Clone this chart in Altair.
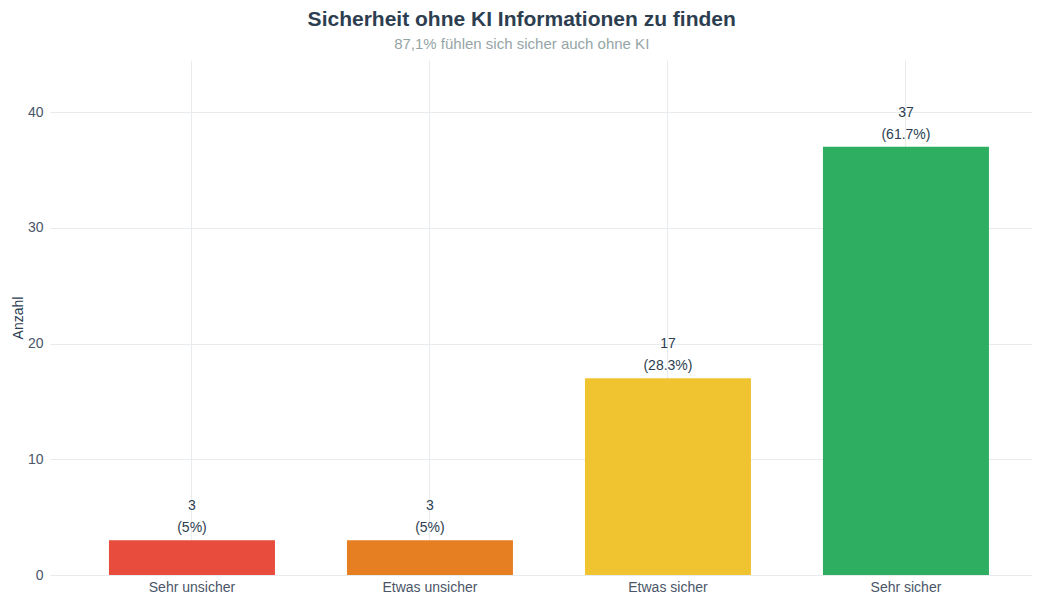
import altair as alt
import pandas as pd

categories = ["Sehr unsicher", "Etwas unsicher", "Etwas sicher", "Sehr sicher"]
counts = [3, 3, 17, 37]
percents = ["5%", "5%", "28.3%", "61.7%"]
colors = ["#e74c3c", "#e67e22", "#f0c330", "#2eae61"]

df = pd.DataFrame({
    "Kategorie": categories,
    "Anzahl": counts,
    "label": [f"{c}\n({p})" for c, p in zip(counts, percents)],
})

x = alt.X("Kategorie:N", sort=categories, title=None,
          scale=alt.Scale(paddingInner=0.3025, paddingOuter=0.2143, align=0.578),
          axis=alt.Axis(labelAngle=0, labelFontSize=14, labelColor="#4a5568",
                        labelFont="Arial", labelPadding=5, ticks=False, domain=False,
                        grid=True, gridColor="#e9ecef", bandPosition=0.5))
y = alt.Y("Anzahl:Q", title="Anzahl",
          scale=alt.Scale(domain=[0, 44.5], nice=False),
          axis=alt.Axis(values=[0, 10, 20, 30, 40], labelFontSize=14, labelColor="#4a5568",
                        labelFont="Arial", titleFont="Arial", titleFontSize=14,
                        titleFontWeight="normal", titleColor="#2c3e50", titlePadding=2,
                        ticks=False, domain=False, gridColor="#e9ecef", labelPadding=7))

bars = alt.Chart(df).mark_bar().encode(
    x=x, y=y,
    color=alt.Color("Kategorie:N", sort=categories,
                    scale=alt.Scale(domain=categories, range=colors), legend=None),
)

text = alt.Chart(df).mark_text(baseline="bottom", dy=-27, fontSize=14, font="Arial",
                               color="#2c3e50", lineHeight=22, lineBreak="\n").encode(
    x=alt.X("Kategorie:N", sort=categories),
    y="Anzahl:Q",
    text="label:N",
)

chart = (bars + text).properties(
    width=982, height=515,
    autosize=alt.AutoSizeParams(type="none"),
    padding={"left": 42, "top": 52, "right": 0, "bottom": 22},
    view=alt.ViewBackground(stroke="transparent", strokeOpacity=0),
    title=alt.TitleParams(
        "Sicherheit ohne KI Informationen zu finden",
        subtitle="87,1% fühlen sich sicher auch ohne KI",
        anchor="middle", frame="bounds", font="Arial", fontSize=21, fontWeight="bold",
        color="#2c3e50", subtitleFont="Arial", subtitleFontSize=15,
        subtitleColor="#95a5a6", subtitlePadding=7, offset=8,
    ),
).configure_view(stroke="transparent", strokeOpacity=0).configure(background="white")

chart.save("out.html", embed_options={"renderer": "svg", "actions": False})
